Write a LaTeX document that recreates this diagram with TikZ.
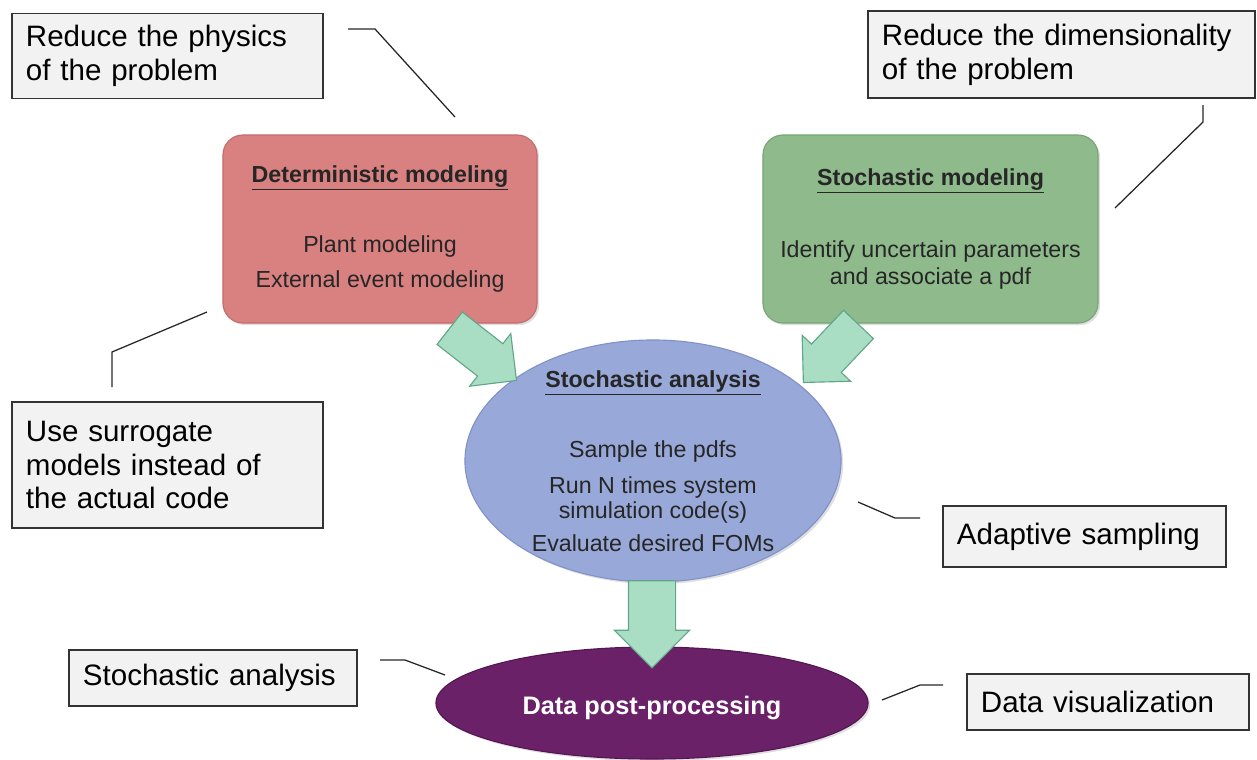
\documentclass[tikz,border=0pt]{standalone}
\usepackage{fontspec}
\setmainfont{Liberation Sans}
\usetikzlibrary{shapes.geometric,shapes.arrows,shadows}
\definecolor{detred}{RGB}{217,128,128}
\definecolor{detedge}{RGB}{196,108,108}
\definecolor{stochgreen}{RGB}{142,186,140}
\definecolor{stochedge}{RGB}{120,164,118}
\definecolor{anablue}{RGB}{152,168,216}
\definecolor{anaedge}{RGB}{128,146,200}
\definecolor{postpurple}{RGB}{107,33,104}
\definecolor{postedge}{RGB}{84,22,82}
\definecolor{mint}{RGB}{170,222,196}
\definecolor{mintedge}{RGB}{96,166,136}
\definecolor{calloutfill}{RGB}{242,242,242}
\begin{document}
\begin{tikzpicture}[x=0.025cm,y=-0.025cm,
	calloutbox/.style={draw=black!80,fill=calloutfill,line width=0.9pt,inner xsep=0.35cm,inner ysep=0pt,align=left,font=\fontsize{21}{24}\selectfont},
	modelbox/.style={rounded corners=0.5cm,minimum height=4.7cm,line width=0.8pt,align=center,text=black!85,font=\fontsize{16.5}{19}\selectfont,drop shadow={shadow xshift=1.5pt,shadow yshift=-1.5pt,opacity=0.25}},
	bubble/.style={ellipse,line width=0.8pt,drop shadow={shadow xshift=1.5pt,shadow yshift=-1.5pt,opacity=0.25}},
	bigarrow/.style={single arrow,draw=mintedge,fill=mint,line width=0.8pt,inner xsep=0pt,inner ysep=0.5cm,single arrow head extend=0.32cm},
	leader/.style={draw=black!85,line width=0.9pt}]
\useasboundingbox (0,0) rectangle (1257,759);
\node[modelbox,fill=detred,draw=detedge,minimum width=7.85cm] (detbox) at (380,229)
	{\underline{\textbf{Deterministic modeling}}\\[31pt]Plant modeling\\[6pt]External event modeling};
\node[modelbox,fill=stochgreen,draw=stochedge,minimum width=8.375cm] (stochbox) at (930.5,229)
	{\underline{\textbf{Stochastic modeling}}\\[32pt]Identify uncertain parameters\\and associate a pdf};
\node[bubble,fill=anablue,draw=anaedge,minimum width=9.4cm,minimum height=6.05cm] (analysis) at (653,461) {};
\node[align=center,text=black!85,font=\fontsize{16.5}{18}\selectfont] (analysistext) at (analysis.center)
	{\underline{\textbf{Stochastic analysis}}\\[31.6pt]Sample the pdfs\\[7.5pt]Run N times system\\simulation code(s)\\[5.4pt]Evaluate desired FOMs};
\node[bubble,fill=postpurple,draw=postedge,minimum width=10.8cm,minimum height=2.8cm] (post) at (652,703) {};
\node[text=white,font=\fontsize{18}{20}\selectfont\bfseries] (posttext) at (652,708) {Data post-processing};
\node[bigarrow,rotate=-38,minimum height=2.12cm] (arrL) at (475,348) {};
\node[bigarrow,rotate=-133.5,minimum height=2cm] (arrR) at (838,346) {};
\node[bigarrow,rotate=-90,minimum height=2.175cm,inner ysep=0.575cm,single arrow head extend=0.35cm] (arrD) at (652,612.5) {};
\node[calloutbox,text width=7.075cm,minimum height=2.125cm] (physics) at (167.5,56)
	{Reduce the physics\\of the problem};
\node[calloutbox,text width=8.975cm,minimum height=2.175cm] (dimension) at (1061.5,54.5)
	{Reduce the dimensionality\\of the problem};
\node[calloutbox,text width=7.075cm,minimum height=3.15cm] (surrogate) at (167.5,465)
	{Use surrogate\\models instead of\\the actual code};
\node[calloutbox,text width=6.375cm,minimum height=1.525cm] (adaptive) at (1084.5,536.5)
	{Adaptive sampling};
\node[calloutbox,text width=6.5cm,minimum height=1.4cm] (stochcall) at (213,678)
	{Stochastic analysis};
\node[calloutbox,text width=6.35cm,minimum height=1.4cm] (visual) at (1108,702)
	{Data visualization};
\coordinate (physA) at (348,29);
\coordinate (physB) at (375,29);
\coordinate (physC) at (455,117);
\coordinate (dimA) at (1203,105);
\coordinate (dimB) at (1203,122);
\coordinate (dimC) at (1115,208);
\coordinate (surA) at (112,387);
\coordinate (surB) at (112,352);
\coordinate (surC) at (207,312);
\coordinate (adaA) at (858,502);
\coordinate (adaB) at (895,518);
\coordinate (adaC) at (920,518);
\coordinate (staA) at (380,660);
\coordinate (staB) at (405,660);
\coordinate (staC) at (445,675);
\coordinate (visA) at (882,700);
\coordinate (visB) at (920,685);
\coordinate (visC) at (943,685);
\draw[leader] (physA)--(physB)--(physC);
\draw[leader] (dimA)--(dimB)--(dimC);
\draw[leader] (surA)--(surB)--(surC);
\draw[leader] (adaA)--(adaB)--(adaC);
\draw[leader] (staA)--(staB)--(staC);
\draw[leader] (visA)--(visB)--(visC);
\end{tikzpicture}
\end{document}
